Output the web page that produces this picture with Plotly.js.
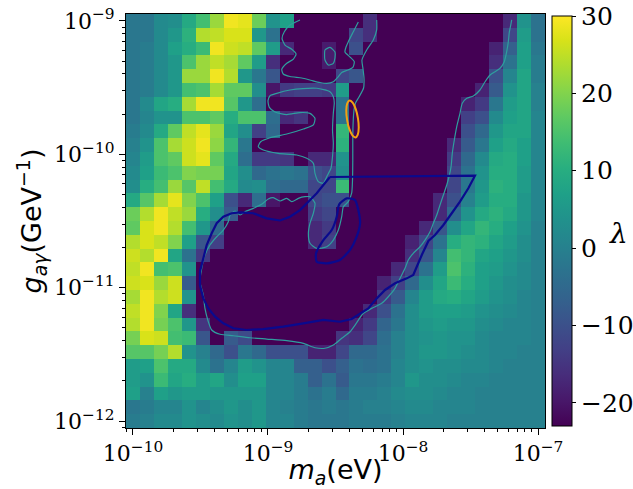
<!DOCTYPE html>
<html>
<head>
<meta charset="utf-8">
<script src="https://cdn.plot.ly/plotly-3.0.1.min.js"></script>
<style>html,body{margin:0;padding:0;background:#fff;} #chart{width:633px;height:489px;}</style>
</head>
<body>
<div id="chart"></div>
<script>
// Scan grid: cell centres as log10 of the axion mass m_a (eV)
const massExp = [-10, -9.8966, -9.7931, -9.6897, -9.5862, -9.4828, -9.3793, -9.2759, -9.1724, -9.0690,
  -8.9655, -8.8621, -8.7586, -8.6552, -8.5517, -8.4483, -8.3448, -8.2414, -8.1379, -8.0345,
  -7.9310, -7.8276, -7.7241, -7.6207, -7.5172, -7.4138, -7.3103, -7.2069, -7.1034, -7.0];
// cell centres as log10 of the coupling g_agamma (GeV^-1), top row first
const couplingExp = [-9.0, -9.1034, -9.2069, -9.3103, -9.4138, -9.5172, -9.6207, -9.7241, -9.8276, -9.9310,
  -10.0345, -10.1379, -10.2414, -10.3448, -10.4483, -10.5517, -10.6552, -10.7586, -10.8621, -10.9655,
  -11.0690, -11.1724, -11.2759, -11.3793, -11.4828, -11.5862, -11.6897, -11.7931, -11.8966, -12.0];

// lambda per cell, one row per coupling (top row first), one column per mass
const lambdaRows = [
  [-2,-2,2,3,9,14,22,29,28,18, 4,7,-23,-23,-23,-23,-23,-16,-23,-23, -23,-23,-23,-23,-23,-23,-23,-17,4,-3],
  [-2,-2,2,5,11,24,25,27,27,5, -3,-23,-23,-23,-23,-23,-12,-16,-23,-23, -23,-23,-23,-23,-23,-23,-23,-12,6,-3],
  [-2,-1,2,7,10,13,29,26,25,17, 6,-17,-23,-23,-19,-23,-10,-23,-23,-23, -23,-23,-23,-23,-23,-23,-18,-7,7,-2],
  [-2,-1,2,5,15,22,25,23,17,6, -16,-23,-23,-23,-19,-23,-23,-23,-23,-23, -23,-23,-23,-23,-23,-23,-16,-3,7,-1],
  [-2,-1,2,5,22,22,29,24,5,-2, -9,-23,-23,-23,-23,-12,-9,-23,-23,-23, -23,-23,-23,-23,-23,-23,-10,1,8,-1],
  [-2,-1,2,5,14,15,23,17,17,3, -20,-14,-13,-13,-14,6,-23,-23,-23,-23, -23,-23,-23,-23,-23,-18,-8,4,8,0],
  [-2,2,8,10,23,29,29,16,5,-4, -23,-23,-23,-23,-23,-3,-23,-23,-23,-23, -23,-23,-23,-23,-18,-14,-2,6,8,0],
  [-2,1,4,4,15,15,17,10,15,15, -4,-17,-15,-23,-23,-3,-23,-23,-23,-23, -23,-23,-23,-23,-13,-10,2,7,8,1],
  [-1,2,9,17,25,28,22,8,3,-13, -5,-23,-23,-23,-23,12,-23,-23,-23,-23, -23,-23,-23,-23,-10,-5,5,8,8,1],
  [0,4,15,23,26,29,21,12,-2,-23, -23,-23,-23,-23,-23,11,-23,-23,-23,-23, -23,-23,-23,-17,-8,-2,7,9,7,1],
  [1,6,15,17,26,28,17,9,-4,-14, -14,-15,-23,-17,-17,4,-23,-23,-23,-23, -23,-23,-23,-14,-5,2,9,10,7,1],
  [2,7,13,15,20,19,19,8,3,-5, -3,-2,-3,-10,-12,3,-23,-23,-23,-23, -23,-23,-23,-12,-3,4,10,10,6,1],
  [3,10,14,22,16,25,14,9,2,3, -4,-5,-5,-12,-12,13,-23,-23,-23,-23, -23,-23,-23,-12,-2,5,11,10,6,1],
  [9,16,23,28,20,15,7,-10,-17,-4, -20,-23,-23,-12,-10,-10,-23,-23,-23,-23, -23,-23,-17,-10,0,6,10,10,5,1],
  [18,24,29,25,22,10,3,-8,-23,-23, -23,-23,-23,-14,-12,-23,-23,-23,-23,-23, -23,-23,-17,-5,4,9,11,9,5,1],
  [17,27,29,24,14,5,-5,-23,-23,-23, -23,-23,-23,-17,-14,-23,-23,-23,-23,-23, -23,-17,-9,3,8,12,10,7,4,0],
  [24,27,25,20,7,-9,-13,-23,-23,-23, -23,-23,-23,-17,-13,-23,-23,-23,-23,-23, -18,-12,-3,10,12,11,8,6,3,0],
  [26,24,29,8,-3,-14,-23,-23,-23,-23, -23,-23,-23,-23,-23,-23,-23,-23,-23,-23, -16,-9,1,14,12,8,7,5,3,0],
  [25,29,14,15,4,-23,-23,-23,-23,-23, -23,-23,-23,-23,-23,-23,-23,-23,-23,-17, -12,-3,6,15,11,7,6,4,2,0],
  [26,27,22,26,-8,-23,-23,-23,-23,-23, -23,-23,-23,-23,-23,-23,-23,-23,-18,-13, -5,3,8,13,10,7,5,3,2,0],
  [23,29,24,26,4,-23,-23,-23,-23,-23, -23,-23,-23,-23,-23,-23,-23,-23,-14,-8, 1,6,9,10,8,6,4,3,1,0],
  [25,29,20,8,-16,-23,-23,-23,-23,-23, -23,-23,-23,-23,-23,-23,-23,-17,-10,-3, 3,6,7,7,6,4,3,2,1,0],
  [24,29,19,15,5,-15,-23,-23,-23,-23, -23,-23,-23,-23,-23,-23,-18,-14,-6,-2, 3,5,6,5,5,3,2,1,1,0],
  [19,27,26,14,13,-9,-23,-8,-11,-23, -23,-23,-23,-23,-23,-15,-16,-12,-4,0, 3,4,5,4,4,2,1,1,1,0],
  [16,16,19,24,4,0,-5,-10,-2,-5, -10,-10,-10,-18,-18,-12,-5,-5,-3,0, 3,5,5,4,3,2,1,1,0,0],
  [6,7,15,9,9,2,-3,1,6,4, 1,1,-7,-7,-10,-7,-3,-4,-3,1, 3,4,3,3,2,2,1,0,0,0],
  [6,4,13,8,10,6,8,3,7,7, 1,1,-1,-7,-3,-8,-2,-2,-1,1, 5,3,3,2,1,1,0,0,0,0],
  [7,0,7,5,6,6,5,5,5,5, 1,1,-1,-3,-1,-5,-1,-1,0,2, 3,3,2,1,1,0,0,0,0,0],
  [-2,-1,1,1,4,1,3,5,3,5, 1,0,-1,-2,-1,-2,-1,0,0,1, 2,2,1,1,1,0,0,0,0,0],
  [-1,0,2,2,4,3,2,4,3,5, 1,1,-1,-2,-2,-2,-1,-1,-1,0, 1,1,1,0,0,0,0,0,0,0]
];
const lambdaMin = -23, lambdaMax = 30;

// Level curves of lambda, as log10(m_a) / log10(g) pairs
const edgeTopX = [-8.763,-8.837,-8.879,-8.896,-8.874,-8.824,-8.792,-8.812,-8.861,-8.898,-8.887,-8.837,-8.750,-8.676,-8.615,-8.565,-8.516,-8.479,-8.454,-8.407,-8.370,-8.361,-8.392,-8.430,-8.422,-8.405,-8.368,-8.331];
const edgeTopY = [-8.993,-9.031,-9.081,-9.131,-9.181,-9.213,-9.248,-9.286,-9.318,-9.363,-9.398,-9.417,-9.428,-9.447,-9.462,-9.469,-9.456,-9.418,-9.387,-9.368,-9.346,-9.306,-9.271,-9.233,-9.196,-9.156,-9.081,-9.008];
const edgeIsleX = [-8.578,-8.541,-8.504,-8.504,-8.516,-8.553,-8.578,-8.581,-8.578];
const edgeIsleY = [-9.218,-9.199,-9.233,-9.278,-9.318,-9.331,-9.293,-9.248,-9.218];
const edgeCombX = [-8.516,-8.541,-8.639,-8.741,-8.837,-8.935,-8.985,-9.000,-8.990,-8.948,-8.861,-8.763,-8.689,-8.652,-8.664,-8.738,-8.861,-8.985,-9.054,-9.072,-9.035,-8.924,-8.787,-8.713,-8.664,-8.652,-8.627,-8.590,-8.565,-8.533,-8.521,-8.516,-8.522,-8.516,-8.509,-8.516];
const edgeCombY = [-9.568,-9.531,-9.505,-9.507,-9.518,-9.543,-9.561,-9.598,-9.648,-9.683,-9.702,-9.687,-9.693,-9.730,-9.780,-9.810,-9.848,-9.876,-9.906,-9.943,-9.968,-9.993,-10.005,-10.030,-10.068,-10.143,-10.205,-10.217,-10.168,-10.103,-10.005,-9.918,-9.818,-9.690,-9.616,-9.568];
const edgeMainX = [-8.195,-8.195,-8.220,-8.269,-8.304,-8.296,-8.289,-8.292,-8.326,-8.352,
  -8.363,-8.370,-8.372,-8.372,-8.374,-8.380,-8.405,-8.442,-8.454,-8.479,
  -8.516,-8.565,-8.639,-8.689,-8.701,-8.689,-8.664,-8.652,-8.689,-8.726,
  -8.775,-8.824,-8.861,-8.911,-8.961,-8.998,-9.047,-9.109,-9.170,-9.207,
  -9.244,-9.281,-9.294,-9.331,-9.380,-9.430,-9.467,-9.491,-9.504,-9.479,
  -9.467,-9.442,-9.417,-9.355,-9.257,-9.133,-9.010,-8.861,-8.738,-8.652,
  -8.578,-8.516,-8.454,-8.392,-8.355,-8.294,-8.232,-8.158,-8.109,-8.059,
  -8.022,-7.985,-7.961,-7.924,-7.874,-7.837,-7.800,-7.775,-7.750,-7.726,
  -7.701,-7.676,-7.659,-7.644,-7.635,-7.620,-7.602,-7.578,-7.561,-7.528,
  -7.479,-7.430,-7.392,-7.355,-7.318,-7.281,-7.250,-7.232,-7.220,-7.212,
  -7.202,-7.195];
const edgeMainY = [-8.993,-9.068,-9.143,-9.218,-9.293,-9.361,-9.428,-9.503,-9.571,-9.616,
  -9.668,-9.780,-9.893,-10.043,-10.193,-10.290,-10.355,-10.393,-10.468,-10.568,
  -10.643,-10.693,-10.705,-10.667,-10.592,-10.517,-10.442,-10.367,-10.318,-10.318,
  -10.330,-10.355,-10.330,-10.350,-10.325,-10.335,-10.375,-10.405,-10.430,-10.455,
  -10.425,-10.455,-10.505,-10.568,-10.618,-10.680,-10.755,-10.855,-10.955,-11.055,
  -11.155,-11.255,-11.317,-11.349,-11.360,-11.375,-11.385,-11.397,-11.417,-11.450,
  -11.454,-11.430,-11.379,-11.330,-11.280,-11.192,-11.155,-11.117,-11.068,-11.005,
  -10.930,-10.855,-10.792,-10.742,-10.693,-10.643,-10.580,-10.517,-10.455,-10.380,
  -10.305,-10.230,-10.168,-10.093,-9.993,-9.893,-9.793,-9.693,-9.618,-9.580,
  -9.563,-9.518,-9.456,-9.406,-9.381,-9.355,-9.306,-9.231,-9.156,-9.081,
  -9.031,-8.993];

// Region boundaries (outer outline and the small inner loop)
const regionOuterX = [-8.541,-7.467,-7.516,-7.578,-7.639,-7.701,-7.763,-7.812,-7.861,-7.924,-7.972,-8.059,-8.133,-8.195,-8.257,-8.331,-8.380,-8.467,-8.590,-8.738,-8.887,-9.035,-9.158,-9.257,-9.331,-9.392,-9.442,-9.479,-9.504,-9.504,-9.479,-9.454,-9.417,-9.380,-9.331,-9.269,-9.207,-9.109,-9.010,-8.911,-8.837,-8.763,-8.701,-8.639,-8.590,-8.541];
const regionOuterY = [-10.170,-10.160,-10.255,-10.355,-10.442,-10.530,-10.605,-10.650,-10.755,-10.905,-10.930,-10.967,-11.017,-11.080,-11.155,-11.205,-11.235,-11.255,-11.242,-11.267,-11.292,-11.310,-11.317,-11.304,-11.267,-11.217,-11.155,-11.080,-10.980,-10.880,-10.768,-10.680,-10.592,-10.517,-10.468,-10.442,-10.435,-10.442,-10.480,-10.496,-10.468,-10.418,-10.355,-10.292,-10.230,-10.170];
const regionInnerX = [-8.467,-8.417,-8.355,-8.331,-8.318,-8.343,-8.392,-8.467,-8.565,-8.639,-8.644,-8.590,-8.528,-8.491,-8.479,-8.467];
const regionInnerY = [-10.367,-10.330,-10.343,-10.418,-10.517,-10.618,-10.717,-10.792,-10.817,-10.805,-10.742,-10.643,-10.568,-10.468,-10.393,-10.367];
// Small highlighted region
const spotX = [-8.352,-8.335,-8.328,-8.334,-8.350,-8.373,-8.396,-8.413,-8.420,-8.414,-8.398,-8.375,-8.352];
const spotY = [-9.874,-9.852,-9.799,-9.729,-9.661,-9.613,-9.597,-9.619,-9.672,-9.742,-9.810,-9.858,-9.874];

// Axis decades and labels
const massDecades = [-10, -9, -8, -7];
const couplingDecades = [-12, -11, -10, -9];
const cbTicks = [-20, -10, 0, 10, 20, 30];

const p10 = v => Math.pow(10, v);
const supLabel = e => '10<sup>' + (e < 0 ? '\u2212' + (-e) : e) + '</sup>';
function cellEdges(c) {
  const e = [c[0] - (c[1] - c[0]) / 2];
  for (let i = 0; i < c.length - 1; i++) e.push((c[i] + c[i + 1]) / 2);
  e.push(c[c.length - 1] + (c[c.length - 1] - c[c.length - 2]) / 2);
  return e;
}
function minorTicks(lo, hi) {
  const out = [];
  for (let d = Math.floor(lo) - 1; d <= Math.ceil(hi); d++)
    for (let k = 2; k <= 9; k++) {
      const v = Math.log10(k) + d;
      if (v > lo && v < hi) out.push(p10(v));
    }
  return out;
}

const couplingAsc = couplingExp.slice().reverse();
const zAsc = lambdaRows.slice().reverse();
const xE = cellEdges(massExp);
const yE = cellEdges(couplingAsc);
const xRange = [xE[0], xE[xE.length - 1]];
const yRange = [yE[0], yE[yE.length - 1]];

const line = (xs, ys, color, width, shape) => ({
  type: 'scatter', mode: 'lines', x: xs.map(p10), y: ys.map(p10),
  line: {color: color, width: width, shape: shape || 'linear', smoothing: 0.6},
  hoverinfo: 'skip', showlegend: false
});

const teal = '#2f9e9e';
const traces = [
  {
    type: 'heatmap', x: xE.map(p10), y: yE.map(p10), z: zAsc,
    colorscale: 'Viridis', zmin: lambdaMin, zmax: lambdaMax, zsmooth: false,
    hoverinfo: 'skip',
    colorbar: {
      x: 1.0167, xanchor: 'left', xpad: 0, y: 0.5, yanchor: 'middle', ypad: 0,
      len: 0.99, lenmode: 'fraction', thickness: 20, thicknessmode: 'pixels',
      outlinecolor: 'black', outlinewidth: 1,
      ticks: 'outside', ticklen: 4, tickwidth: 1, tickcolor: 'black',
      tickmode: 'array', tickvals: cbTicks,
      ticktext: cbTicks.map(v => (v < 0 ? '\u2212' + (-v) : String(v))),
      tickfont: {family: 'DejaVu Serif', size: 25, color: 'black'}
    }
  },
  line(edgeTopX, edgeTopY, teal, 1.2, 'spline'),
  line(edgeIsleX, edgeIsleY, teal, 1.2, 'spline'),
  line(edgeCombX, edgeCombY, teal, 1.2, 'spline'),
  line(edgeMainX, edgeMainY, teal, 1.2, 'spline'),
  line(regionOuterX, regionOuterY, '#0a0a8e', 2.2),
  line(regionInnerX, regionInnerY, '#0a0a8e', 2.2, 'spline'),
  line(spotX, spotY, '#f5a010', 2, 'spline')
];

const axisCommon = {
  type: 'log', showgrid: false, zeroline: false,
  showline: true, mirror: true, linecolor: 'black', linewidth: 1,
  ticks: 'outside', ticklen: 6, tickwidth: 1, tickcolor: 'black',
  tickmode: 'array',
  tickfont: {family: 'DejaVu Serif', size: 22, color: 'black'},
  automargin: false
};

const layout = {
  width: 633, height: 489,
  margin: {l: 126, r: 88, t: 14, b: 61, autoexpand: false},
  paper_bgcolor: 'white', plot_bgcolor: 'white',
  font: {family: 'DejaVu Sans', color: 'black'},
  showlegend: false,
  xaxis: Object.assign({}, axisCommon, {
    range: xRange,
    tickvals: massDecades.map(p10), ticktext: massDecades.map(supLabel),
    minor: {tickmode: 'array', tickvals: minorTicks(xRange[0], xRange[1]), ticks: 'outside', ticklen: 3, tickwidth: 1, tickcolor: 'black', showgrid: false},
    title: {text: '<i>m</i><sub><i>a</i></sub>(eV)', font: {family: 'DejaVu Sans', size: 27, color: 'black'}, standoff: 6}
  }),
  yaxis: Object.assign({}, axisCommon, {
    range: yRange,
    tickvals: couplingDecades.map(p10), ticktext: couplingDecades.map(supLabel),
    minor: {tickmode: 'array', tickvals: minorTicks(yRange[0], yRange[1]), ticks: 'outside', ticklen: 3, tickwidth: 1, tickcolor: 'black', showgrid: false},
    title: {text: '<i>g</i><sub><i>a\u03b3</i></sub>(GeV<sup>\u22121</sup>)', font: {family: 'DejaVu Sans', size: 27, color: 'black'}, standoff: 4}
  }),
  annotations: [{
    xref: 'paper', yref: 'paper', x: 1.176, y: 0.471, xanchor: 'center', yanchor: 'middle',
    text: '<i>\u03bb</i>', showarrow: false,
    font: {family: 'DejaVu Serif', size: 28, color: 'black'}
  }]
};

Plotly.newPlot('chart', traces, layout, {staticPlot: true, displayModeBar: false});
</script>
</body>
</html>
